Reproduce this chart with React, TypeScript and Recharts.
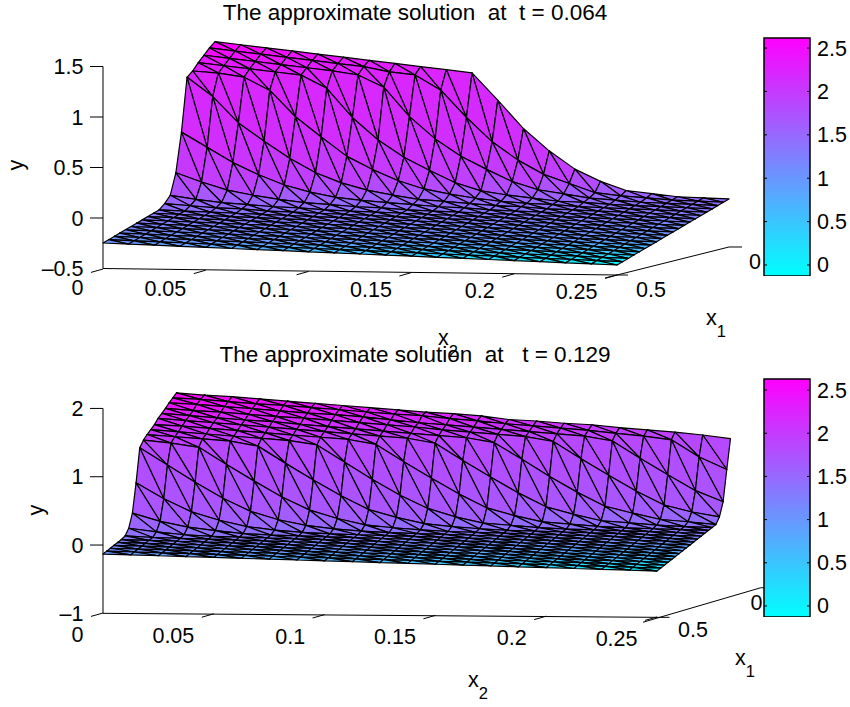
import React from 'react'
import { BarChart, Bar, ScatterChart, Scatter, XAxis, YAxis } from 'recharts'

const FONT = '"Liberation Sans", Arial, sans-serif'

// mesh nodes
const x2Nodes = [0, 0.0125, 0.025, 0.0375, 0.05, 0.0625, 0.075, 0.0875, 0.1, 0.1125, 0.125, 0.1375, 0.15, 0.1625, 0.175, 0.1875, 0.2, 0.2125, 0.225, 0.2375, 0.25]
const x1Nodes = [0.5, 0.475, 0.45, 0.425, 0.4, 0.375, 0.35, 0.325, 0.3, 0.275, 0.25, 0.225, 0.2, 0.175, 0.15, 0.125, 0.1, 0.075, 0.05, 0.025, 0]
const x2Ticks = [0, 0.05, 0.1, 0.15, 0.2, 0.25]
const cbarTicks = [0, 0.5, 1, 1.5, 2, 2.5]

// height above the floor, one row per x1 node (front to back), missing columns are 0
const heights1: number[][] = [
  [], [], [], [], [], [], [], [], [], [], [],
  [0.03, 0.02, 0.01, 0.01],
  [0.08, 0.05, 0.03, 0.02, 0.01, 0.01],
  [0.27, 0.19, 0.12, 0.08, 0.05, 0.03, 0.02, 0.01, 0.01],
  [0.64, 0.5, 0.36, 0.25, 0.16, 0.1, 0.06, 0.04, 0.03, 0.02, 0.01, 0.01],
  [1.15, 0.97, 0.72, 0.55, 0.39, 0.26, 0.17, 0.11, 0.07, 0.04, 0.03, 0.02, 0.01, 0.01],
  [1.18, 1.17, 1.14, 1.02, 0.77, 0.58, 0.4, 0.28, 0.18, 0.11, 0.07, 0.04, 0.02, 0.01, 0.01],
  [1.23, 1.21, 1.19, 1.17, 1.15, 1.03, 0.75, 0.54, 0.38, 0.26, 0.15, 0.08, 0.05, 0.03, 0.01, 0.01],
  [1.27, 1.25, 1.23, 1.21, 1.19, 1.17, 1.14, 1.03, 0.75, 0.54, 0.38, 0.26, 0.15, 0.08, 0.05, 0.02, 0.01],
  [1.31, 1.29, 1.27, 1.25, 1.23, 1.21, 1.19, 1.15, 1.13, 0.99, 0.73, 0.5, 0.33, 0.2, 0.12, 0.04, 0.02, 0.01],
  [1.34, 1.32, 1.3, 1.28, 1.26, 1.24, 1.22, 1.2, 1.18, 1.16, 1.14, 0.88, 0.61, 0.4, 0.23, 0.12, 0.04, 0.02],
]

const heights2: number[][] = [
  [], [], [], [], [], [],
  [0.01],
  [0.08, 0.04, 0.01],
  [0.26, 0.15, 0.08, 0.04, 0.01],
  [0.66, 0.44, 0.26, 0.15, 0.07, 0.03, 0.01],
  [1.13, 0.89, 0.65, 0.43, 0.25, 0.14, 0.07, 0.03, 0.01],
  [1.2, 1.17, 1.12, 0.88, 0.65, 0.43, 0.25, 0.14, 0.06, 0.03, 0.01],
  [1.24, 1.22, 1.2, 1.18, 1.12, 0.88, 0.65, 0.43, 0.24, 0.14, 0.06, 0.03, 0.01],
  [1.27, 1.25, 1.23, 1.21, 1.19, 1.17, 1.12, 0.88, 0.64, 0.42, 0.24, 0.13, 0.05, 0.03, 0.01],
  [1.3, 1.29, 1.27, 1.25, 1.23, 1.21, 1.19, 1.17, 1.11, 0.87, 0.64, 0.42, 0.23, 0.13, 0.05, 0.03, 0.01],
  [1.35, 1.33, 1.31, 1.29, 1.27, 1.25, 1.23, 1.21, 1.19, 1.17, 1.11, 0.87, 0.64, 0.42, 0.23, 0.13, 0.05, 0.03, 0.01],
  [1.38, 1.36, 1.34, 1.32, 1.31, 1.28, 1.26, 1.24, 1.22, 1.2, 1.18, 1.16, 1.1, 0.87, 0.63, 0.41, 0.22, 0.13, 0.05, 0.03],
  [1.41, 1.39, 1.38, 1.36, 1.34, 1.33, 1.31, 1.29, 1.27, 1.25, 1.22, 1.2, 1.18, 1.16, 1.1, 0.86, 0.63, 0.41, 0.22, 0.13, 0.07],
  [1.45, 1.44, 1.42, 1.4, 1.38, 1.36, 1.35, 1.33, 1.3, 1.27, 1.25, 1.23, 1.21, 1.19, 1.17, 1.15, 1.09, 0.85, 0.62, 0.4, 0.25],
  [1.48, 1.47, 1.45, 1.43, 1.42, 1.4, 1.38, 1.36, 1.34, 1.33, 1.3, 1.28, 1.25, 1.23, 1.21, 1.19, 1.16, 1.13, 1.09, 0.85, 0.68],
  [1.51, 1.49, 1.48, 1.46, 1.44, 1.42, 1.4, 1.38, 1.36, 1.34, 1.33, 1.31, 1.27, 1.26, 1.24, 1.23, 1.2, 1.18, 1.16, 1.13, 1.09],
]

// axis value -> position on the cool colormap
const colourY1 = [-0.41, -0.25, -0.03, 0.2, 0.6, 1.18, 1.3, 1.46]
const colourT1 = [0, 0.4, 0.58, 0.75, 0.82, 0.86, 0.9, 1]
const colourY2 = [-0.34, -0.24, -0.136, 0, 0.3, 1.18, 1.5, 1.8]
const colourT2 = [0, 0.25, 0.4, 0.55, 0.66, 0.72, 0.85, 1]

const coolAt = (ys: number[], ts: number[], y: number) => {
  let t = ts[ts.length - 1]
  if (y <= ys[0]) t = ts[0]
  for (let k = 1; k < ys.length; k++) {
    if (y > ys[k - 1] && y <= ys[k]) {
      t = ts[k - 1] + ((ts[k] - ts[k - 1]) * (y - ys[k - 1])) / (ys[k] - ys[k - 1])
    }
  }
  return `rgb(${Math.round(255 * t)},${Math.round(255 * (1 - t))},255)`
}

interface Panel {
  title: string
  titleX: number
  top: number
  height: number
  plotTop: number
  plotBottom: number
  pxPerX2: number
  xMax: number
  yDomain: [number, number]
  yTicks: number[]
  heights: number[][]
  depth: number // x2 shift per unit of x1
  floor: [number, number, number] // base, per column, per row
  toAxis: [number, number, number]
  colourY: number[]
  colourT: number[]
  x2Line: number[][]
  x1Line: number[][]
  x2TickY: number
  x2TickTilt: number
  x2LabelY: number
  titleY: number
  yLabel: number[]
  x2Label: number[]
  x1Label: number[]
  x1TickLabels: { text: string; x: number; y: number }[]
  cbarTop: number
  cbarBottom: number
  cbarDomain: [number, number]
}

const panels: Panel[] = [
  {
    title: 'The approximate solution  at  t = 0.064',
    titleX: 415,
    top: 0,
    height: 362,
    // plot area is larger than the y axis line so the surface fits in the domain
    plotTop: 26.1,
    plotBottom: 278.6,
    pxPerX2: 2056,
    xMax: 0.315,
    yDomain: [-0.6, 1.9],
    yTicks: [-0.5, 0, 0.5, 1, 1.5],
    heights: heights1,
    depth: 0.109,
    floor: [-0.2475, -0.0109, 0.0327],
    toAxis: [0.005, 0.00297, -0.01386],
    colourY: colourY1,
    colourT: colourT1,
    x2Line: [[0, -0.5], [0.25, -0.5644], [0.2553, -0.5644]],
    x1Line: [[0.2442, -0.594], [0.3045, -0.287], [0.3108, -0.287]],
    x2TickY: 269,
    x2TickTilt: 0.3,
    x2LabelY: 295,
    titleY: 19.5,
    yLabel: [23, 165],
    x2Label: [438, 345],
    x1Label: [706, 325],
    x1TickLabels: [{ text: '0.5', x: 651, y: 296.5 }, { text: '0', x: 755, y: 268.5 }],
    cbarTop: 38,
    cbarBottom: 275,
    cbarDomain: [-0.127, 2.616],
  },
  {
    title: 'The approximate solution  at   t = 0.129',
    titleX: 415,
    top: 335,
    height: 372,
    plotTop: 381.1,
    plotBottom: 627,
    pxPerX2: 2216,
    xMax: 0.305,
    yDomain: [-1.2, 2.4],
    yTicks: [-1, 0, 1, 2],
    heights: heights2,
    depth: 0.0663,
    floor: [-0.1318, -0.01245, 0.04246],
    toAxis: [-0.0044, 0.00293, -0.02123],
    colourY: colourY2,
    colourT: colourT2,
    x2Line: [[0, -1], [0.25, -1.0586], [0.2556, -1.0586]],
    x1Line: [[0.2437, -1.13], [0.2968, -0.6255], [0.3014, -0.6255]],
    x2TickY: 613,
    x2TickTilt: 0.2,
    x2LabelY: 642,
    titleY: 361.7,
    yLabel: [43, 510],
    x2Label: [468, 687],
    x1Label: [735, 665],
    x1TickLabels: [{ text: '0.5', x: 693, y: 637 }, { text: '0', x: 756.5, y: 610 }],
    cbarTop: 379,
    cbarBottom: 616,
    cbarDomain: [-0.128, 2.628],
  },
]

// every facet vertex in the drawing plane: x2 shifted by depth, y shifted by the floor tilt
const buildFacets = (p: Panel) => {
  const verts: { x: number; y: number; colour: string }[] = []
  const node = (i: number, j: number) => ({
    x: x2Nodes[j] + (0.5 - x1Nodes[i]) * p.depth,
    y: (p.heights[i][j] ?? 0) + p.floor[0] + p.floor[1] * j + p.floor[2] * i,
  })
  const axisY = (i: number, j: number) => node(i, j).y + p.toAxis[0] + p.toAxis[1] * j + p.toAxis[2] * i
  const push = (a: number[], b: number[], c: number[]) => {
    const mean = (axisY(a[0], a[1]) + axisY(b[0], b[1]) + axisY(c[0], c[1])) / 3
    const colour = coolAt(p.colourY, p.colourT, mean)
    for (const v of [a, b, c]) verts.push({ ...node(v[0], v[1]), colour })
  }
  for (let i = x1Nodes.length - 2; i >= 0; i--) {
    for (let j = 0; j < x2Nodes.length - 1; j++) {
      push([i + 1, j], [i + 1, j + 1], [i, j + 1])
      push([i, j], [i, j + 1], [i + 1, j])
    }
  }
  return verts
}

const NoDot = () => <g />

const Surface = ({ panel }: { panel: Panel }) => {
  const facets = buildFacets(panel)
  const drawFacets = (lineProps: any) => {
    const pts = lineProps.points
    const out = []
    for (let k = 0; k + 2 < pts.length; k += 3) {
      out.push(
        <polygon
          key={k}
          points={`${pts[k].x},${pts[k].y} ${pts[k + 1].x},${pts[k + 1].y} ${pts[k + 2].x},${pts[k + 2].y}`}
          fill={facets[k].colour}
          stroke="#000"
          strokeWidth={1.2}
          strokeLinejoin="round"
        />
      )
    }
    return <g>{out}</g>
  }
  const x2Tick = (t: any) => {
    const idx = x2Ticks.indexOf(t.payload.value)
    const y = panel.x2TickY - panel.top + panel.x2TickTilt * idx * 4
    return (
      <g key={t.payload.value}>
        <line x1={t.x - 12} y1={y + 3.4} x2={t.x} y2={y} stroke="#000" />
        <text x={t.x - 19.5} y={panel.x2LabelY - panel.top + idx * 0.8} textAnchor="end" fontSize={21.5} fontFamily={FONT} fill="#000">
          {t.payload.value}
        </text>
      </g>
    )
  }
  const yTick = (t: any) => (
    <g key={t.payload.value}>
      {t.payload.value !== panel.yTicks[0] && <line x1={90} y1={t.y} x2={103} y2={t.y} stroke="#000" />}
      <text x={83.5} y={t.y + 7.5} textAnchor="end" fontSize={21.5} fontFamily={FONT} fill="#000">
        {String(t.payload.value).replace('-', '–')}
      </text>
    </g>
  )
  const lo = panel.yTicks[0]
  const hi = panel.yTicks[panel.yTicks.length - 1]
  return (
    <div style={{ position: 'absolute', left: 0, top: panel.top }}>
      <ScatterChart
        width={850}
        height={panel.height}
        margin={{ top: panel.plotTop - panel.top, right: 850 - 103 - panel.xMax * panel.pxPerX2, bottom: 0, left: 0 }}
      >
        <XAxis
          type="number"
          dataKey="x"
          domain={[0, panel.xMax]}
          ticks={x2Ticks}
          interval={0}
          axisLine={false}
          tickLine={false}
          tick={x2Tick}
          height={panel.top + panel.height - panel.plotBottom}
        />
        <YAxis
          type="number"
          dataKey="y"
          domain={panel.yDomain}
          ticks={panel.yTicks}
          interval={0}
          width={103}
          tickLine={false}
          axisLine={false}
          tick={yTick}
        />
        <Scatter data={[{ x: 0, y: lo }, { x: 0, y: hi }]} line={{ stroke: '#000', strokeWidth: 1 }} shape={NoDot} isAnimationActive={false} />
        <Scatter data={panel.x2Line.map(d => ({ x: d[0], y: d[1] }))} line={{ stroke: '#000', strokeWidth: 1 }} shape={NoDot} isAnimationActive={false} />
        <Scatter data={panel.x1Line.map(d => ({ x: d[0], y: d[1] }))} line={{ stroke: '#000', strokeWidth: 1 }} shape={NoDot} isAnimationActive={false} />
        <Scatter data={facets} line={drawFacets} shape={NoDot} isAnimationActive={false} />
        <text x={panel.titleX} y={panel.titleY - panel.top} textAnchor="middle" fontSize={22.5} fontFamily={FONT} fill="#000" style={{ whiteSpace: 'pre' }}>
          {panel.title}
        </text>
        <text
          x={panel.yLabel[0]}
          y={panel.yLabel[1] - panel.top}
          textAnchor="middle"
          fontSize={21.5}
          fontFamily={FONT}
          fill="#000"
          transform={`rotate(-90 ${panel.yLabel[0]} ${panel.yLabel[1] - panel.top})`}
        >
          y
        </text>
        <text x={panel.x2Label[0]} y={panel.x2Label[1] - panel.top} fontSize={21.5} fontFamily={FONT} fill="#000">
          x<tspan dy={11.5} fontSize={16.5}>2</tspan>
        </text>
        <text x={panel.x1Label[0]} y={panel.x1Label[1] - panel.top} fontSize={21.5} fontFamily={FONT} fill="#000">
          x<tspan dy={11.5} fontSize={16.5}>1</tspan>
        </text>
        {panel.x1TickLabels.map(l => (
          <text key={l.text} x={l.x} y={l.y - panel.top} textAnchor="middle" fontSize={21.5} fontFamily={FONT} fill="#000">
            {l.text}
          </text>
        ))}
      </ScatterChart>
    </div>
  )
}

const ColorBar = ({ panel, id }: { panel: Panel; id: string }) => {
  const cbarTick = (t: any) => (
    <g key={t.payload.value}>
      <line x1={t.x - 46} y1={t.y} x2={t.x - 43} y2={t.y} stroke="#000" />
      <line x1={t.x - 3} y1={t.y} x2={t.x} y2={t.y} stroke="#000" />
      <text x={t.x + 7} y={t.y + 7.5} fontSize={21.5} fontFamily={FONT} fill="#000">
        {t.payload.value}
      </text>
    </g>
  )
  return (
    <div style={{ position: 'absolute', left: 763, top: 0 }}>
      <BarChart
        width={87}
        height={panel.cbarBottom + 1}
        data={[{ name: 'u', range: panel.cbarDomain }]}
        margin={{ top: panel.cbarTop, right: 0, bottom: 0, left: 1 }}
        barCategoryGap={0}
      >
        <defs>
          <linearGradient id={id} x1="0" y1="1" x2="0" y2="0">
            <stop offset="0%" stopColor="#00ffff" />
            <stop offset="100%" stopColor="#ff00ff" />
          </linearGradient>
        </defs>
        <XAxis dataKey="name" hide />
        <YAxis
          orientation="right"
          type="number"
          domain={panel.cbarDomain}
          ticks={cbarTicks}
          interval={0}
          width={40}
          axisLine={false}
          tickLine={false}
          tickSize={0}
          tickMargin={0}
          tick={cbarTick}
        />
        <Bar dataKey="range" fill={`url(#${id})`} stroke="#000" strokeWidth={1.5} isAnimationActive={false} />
      </BarChart>
    </div>
  )
}

export default function App() {
  return (
    <div style={{ position: 'absolute', left: 0, top: 0, width: 850, height: 707, background: '#fff', overflow: 'hidden' }}>
      {panels.map((p, k) => (
        <Surface key={k} panel={p} />
      ))}
      {panels.map((p, k) => (
        <ColorBar key={k} panel={p} id={`cbar${k}`} />
      ))}
    </div>
  )
}
